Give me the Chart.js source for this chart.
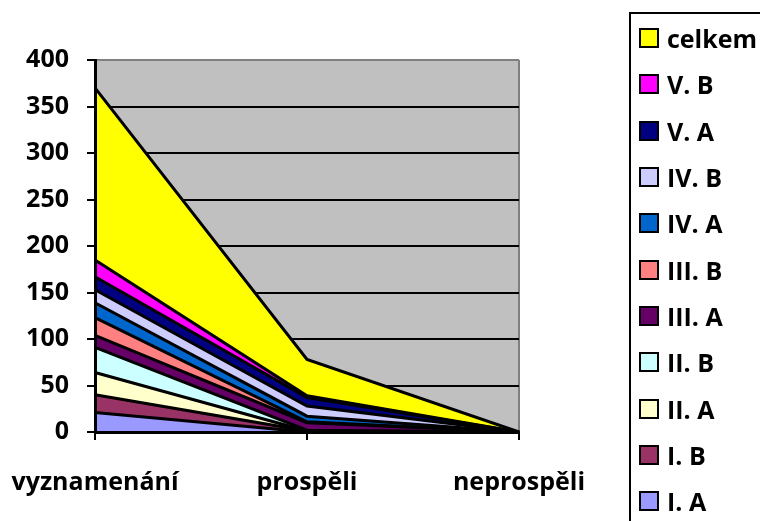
<!DOCTYPE html>
<html>
<head>
<meta charset="utf-8">
<script src="https://cdn.jsdelivr.net/npm/chart.js@4.4.1/dist/chart.umd.min.js"></script>
<style>
    body { margin: 0; background: #fff; overflow: hidden; }
    #wrap { position: relative; width: 760px; height: 521px; }
    .custom-legend {
        position: absolute; left: 629px; top: 12px;
        width: 200px; height: 560px;
        border: 2px solid #000; margin: 0; padding: 1px 0 0 0;
        list-style: none; box-sizing: border-box;
        font-family: "Open Sans", sans-serif; font-weight: bold; font-size: 25px;
    }
    .custom-legend li { height: 46.3px; display: flex; align-items: center; padding-left: 8px; }
    .legend-color {
        display: inline-block; width: 16px; height: 16px;
        border: 2px solid #000; margin-right: 8px;
    }
</style>
</head>
<body>
<div id="wrap">
    <canvas id="plocha" width="760" height="521"></canvas>
    <ul class="custom-legend"></ul>
</div>
<script>
// kategorie a hodnoty
const kategorie = ['vyznamenání', 'prospěli', 'neprospěli'];
const tridy = ['I. A', 'I. B', 'II. A', 'II. B', 'III. A', 'III. B', 'IV. A', 'IV. B', 'V. A', 'V. B', 'celkem'];
const hodnoty = [
    [21, 0, 0],    // I. A
    [19, 1, 0],    // I. B
    [24, 0, 0],    // II. A
    [27, 1, 0],    // II. B
    [13, 8, 0],    // III. A
    [19, 1, 0],    // III. B
    [16, 6, 0],    // IV. A
    [14, 11, 0],   // IV. B
    [14, 9, 0],    // V. A
    [18, 2, 0],    // V. B
    [185, 39, 0]   // celkem
];
const barvy = ['#9999FF', '#993366', '#FFFFCC', '#CCFFFF', '#660066', '#FF8080', '#0066CC', '#CCCCFF', '#000080', '#FF00FF', '#FFFF00'];
const osaY = { min: 0, max: 400, krok: 50 };

const pismo = { family: '"Open Sans", sans-serif', size: 25, weight: 'bold' };

// šedé pozadí plochy grafu
const pozadi = {
    id: 'pozadi',
    beforeDraw(chart) {
        const a = chart.chartArea;
        const ctx = chart.ctx;
        ctx.save();
        ctx.fillStyle = '#C0C0C0';
        ctx.fillRect(a.left, a.top, a.right - a.left, a.bottom - a.top);
        ctx.restore();
    }
};

const datasets = tridy.map((t, i) => ({
    label: t,
    data: hodnoty[i],
    backgroundColor: barvy[i],
    borderColor: '#000',
    borderWidth: 3,
    pointRadius: 0,
    tension: 0,
    fill: i === 0 ? 'origin' : '-1'
}));

new Chart(document.getElementById('plocha').getContext('2d'), {
    type: 'line',
    data: { labels: kategorie, datasets: datasets },
    plugins: [pozadi],
    options: {
        responsive: false,
        animation: false,
        layout: { padding: { top: 60, right: 241, left: 0, bottom: 0 } },
        plugins: { legend: { display: false }, tooltip: { enabled: false } },
        scales: {
            x: {
                offset: false,
                afterFit: s => {
                    s.height = 89;
                    s.paddingLeft = 0;
                    s.paddingRight = 0;
                },
                grid: {
                    color: c => c.index === 2 ? '#808080' : 'rgba(0,0,0,0)',
                    lineWidth: 2,
                    tickColor: '#000',
                    tickLength: 8,
                    tickWidth: 2
                },
                border: { color: '#000', width: 3, z: 1 },
                ticks: { font: pismo, color: '#000', padding: 28, maxRotation: 0, autoSkip: false }
            },
            y: {
                stacked: true,
                min: osaY.min,
                max: osaY.max,
                afterFit: s => { s.width = 95; },
                grid: {
                    color: c => c.tick && c.tick.value === osaY.max ? '#808080' : '#000',
                    lineWidth: 2,
                    tickColor: '#000',
                    tickLength: 8,
                    tickWidth: 2
                },
                border: { color: '#000', width: 3, z: 1 },
                ticks: { stepSize: osaY.krok, font: pismo, color: '#000', padding: 18 }
            }
        }
    }
});

// vlastní legenda (obráceně, celkem nahoře)
function createLegendHTML(labels, colors) {
    let html = '';
    for (let i = labels.length - 1; i >= 0; i--) {
        html += `<li><span class="legend-color" style="background-color: ${colors[i]}"></span>${labels[i]}</li>`;
    }
    return html;
}
document.querySelector('.custom-legend').innerHTML = createLegendHTML(tridy, barvy);
</script>
</body>
</html>
